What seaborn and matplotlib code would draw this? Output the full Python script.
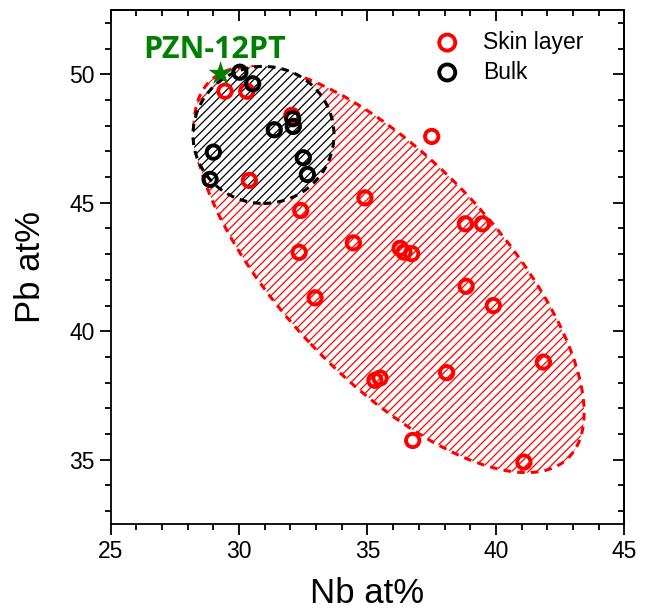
import numpy as np
import pandas as pd
import matplotlib
matplotlib.use("Agg")
import matplotlib.pyplot as plt
from matplotlib.patches import Ellipse
from matplotlib.ticker import MultipleLocator
import seaborn as sns

# %% data
skin_nb = [29.45, 30.30, 32.05, 30.40, 37.50, 34.90, 32.40, 32.34, 34.45, 36.27,
           36.42, 36.72, 38.81, 39.47, 32.96, 38.84, 39.90, 41.85, 38.08, 35.29,
           35.49, 36.76, 41.09]
skin_pb = [49.34, 49.34, 48.40, 45.87, 47.58, 45.19, 44.70, 43.07, 43.44, 43.23,
           43.08, 43.02, 44.18, 44.18, 41.30, 41.75, 41.00, 38.80, 38.39, 38.09,
           38.18, 35.75, 34.91]
bulk_nb = [30.03, 30.53, 32.09, 32.11, 31.37, 29.00, 28.87, 32.50, 32.66]
bulk_pb = [50.08, 49.63, 48.27, 47.97, 47.84, 46.97, 45.91, 46.75, 46.10]
ref_nb = [29.28]
ref_pb = [50.02]
ref_label = "PZN-12PT"

# guide ellipses: (center x, center y, width, height, angle)
skin_region = (35.84, 42.40, 20.24, 8.41, -46.6)
bulk_region = (30.95, 47.64, 5.49, 5.33, 0.0)

skin_df = pd.DataFrame({"Nb": skin_nb, "Pb": skin_pb})
bulk_df = pd.DataFrame({"Nb": bulk_nb, "Pb": bulk_pb})
ref_df = pd.DataFrame({"Nb": ref_nb, "Pb": ref_pb})

# %% style
sns.set_style("ticks")
plt.rcParams["font.family"] = ["Liberation Sans", "DejaVu Sans"]
plt.rcParams["hatch.linewidth"] = 0.9
plt.rcParams["axes.linewidth"] = 1.3
for key in ["text.color", "axes.labelcolor", "xtick.color", "ytick.color",
            "axes.edgecolor"]:
    plt.rcParams[key] = "black"

fig = plt.figure(figsize=(6.51, 6.10), dpi=100)
ax = fig.add_axes([0.170, 0.141, 0.789, 0.8426])

# shaded regions
cx, cy, w, h, ang = skin_region
ax.add_patch(Ellipse((cx, cy), w, h, angle=ang, facecolor="white",
                     edgecolor="red", hatch="////", linewidth=2.2,
                     linestyle=(0, (2.5, 2)), zorder=1))
cx, cy, w, h, ang = bulk_region
ax.add_patch(Ellipse((cx, cy), w, h, angle=ang, facecolor="white",
                     edgecolor="black", hatch="////", linewidth=2.2,
                     linestyle=(0, (2.5, 2)), zorder=2))

# points
sns.scatterplot(data=skin_df, x="Nb", y="Pb", ax=ax, marker="o", s=92,
                color="red", facecolors="none", edgecolor="red",
                linewidth=2.8, label="Skin layer", zorder=3)
sns.scatterplot(data=bulk_df, x="Nb", y="Pb", ax=ax, marker="o", s=92,
                color="black", facecolors="none", edgecolor="black",
                linewidth=2.8, label="Bulk", zorder=4)
sns.scatterplot(data=ref_df, x="Nb", y="Pb", ax=ax, marker="*", s=330,
                color="green", edgecolor="none", legend=False, zorder=5)

ax.text(29.04, 50.95, ref_label, color="green", fontsize=22,
        fontweight="bold", family=["Open Sans", "DejaVu Sans"],
        ha="center", va="center")

# axes
ax.set_xlim(25, 45)
ax.set_ylim(32.5, 52.5)
ax.xaxis.set_major_locator(MultipleLocator(5))
ax.xaxis.set_minor_locator(MultipleLocator(1))
ax.yaxis.set_major_locator(MultipleLocator(5))
ax.yaxis.set_minor_locator(MultipleLocator(1))
ax.set_yticks([35, 40, 45, 50])
ax.tick_params(which="major", direction="out", length=8, width=1.3,
               labelsize=16.5)
ax.tick_params(which="minor", direction="out", length=4, width=1.3)

# inward ticks on top and right
top = ax.secondary_xaxis("top")
top.xaxis.set_major_locator(MultipleLocator(5))
top.xaxis.set_minor_locator(MultipleLocator(1))
top.tick_params(which="major", direction="in", length=8, width=1.3,
                labeltop=False)
top.tick_params(which="minor", direction="in", length=4, width=1.3)
right = ax.secondary_yaxis("right")
right.yaxis.set_major_locator(MultipleLocator(5))
right.yaxis.set_minor_locator(MultipleLocator(1))
right.tick_params(which="major", direction="in", length=8, width=1.3,
                  labelright=False)
right.tick_params(which="minor", direction="in", length=4, width=1.3)

ax.set_xlabel("Nb at%", fontsize=25, labelpad=10)
ax.set_ylabel("Pb at%", fontsize=25, labelpad=16)

ax.legend(loc="upper right", frameon=False, fontsize=16.5, markerscale=1.2,
          handletextpad=0.55, labelspacing=0.3, bbox_to_anchor=(0.96, 1.0))

fig.savefig("out.png", dpi=100)
